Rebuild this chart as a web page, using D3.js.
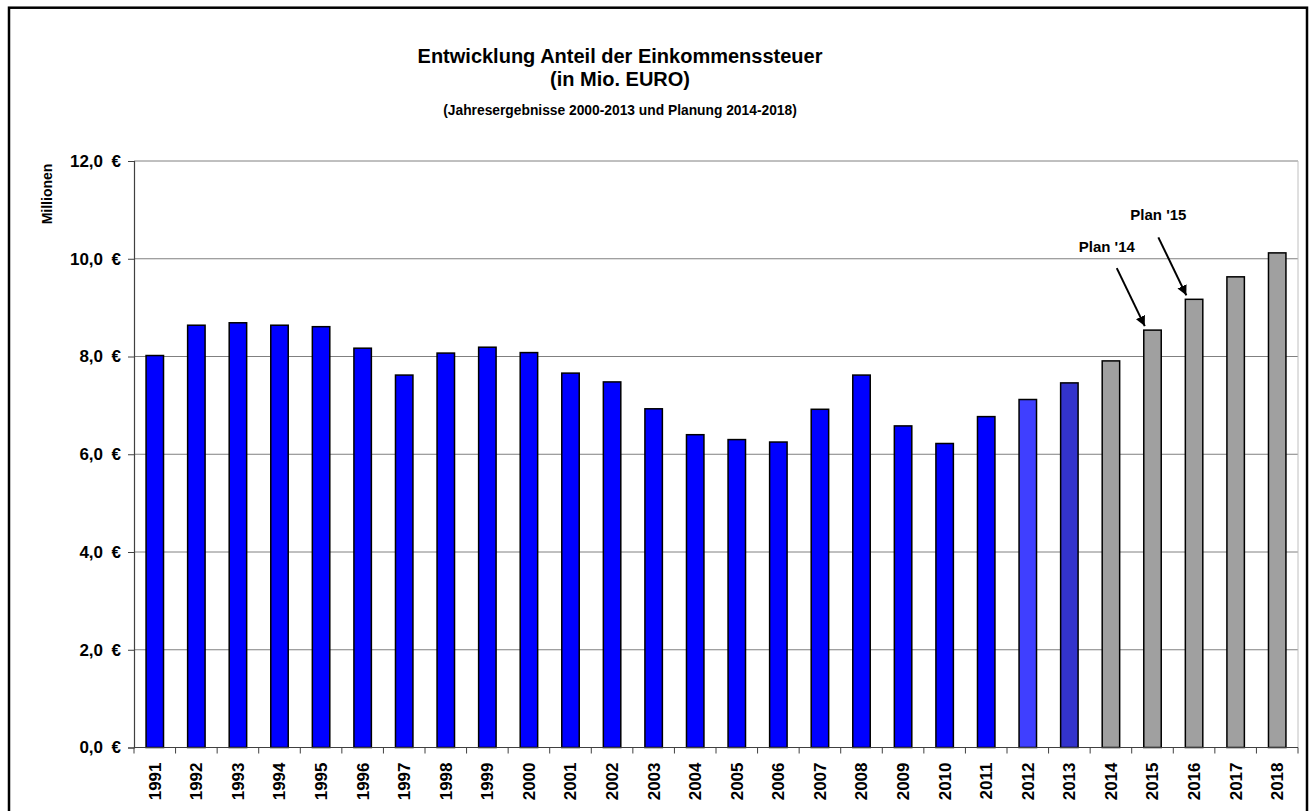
<!DOCTYPE html>
<html>
<head>
<meta charset="utf-8">
<script src="https://cdn.jsdelivr.net/npm/d3@7"></script>
<style>
  html, body { margin: 0; padding: 0; background: #fff; }
  svg { display: block; font-family: "Liberation Sans", Arial, sans-serif; }
</style>
</head>
<body>
<svg id="chart" width="1312" height="811"></svg>
<script>
// ---- data ----
const years = ["1991","1992","1993","1994","1995","1996","1997","1998","1999","2000",
               "2001","2002","2003","2004","2005","2006","2007","2008","2009","2010",
               "2011","2012","2013","2014","2015","2016","2017","2018"];
const values = [8.02, 8.64, 8.69, 8.64, 8.61, 8.17, 7.62, 8.07, 8.19, 8.08,
                7.66, 7.48, 6.93, 6.40, 6.30, 6.25, 6.92, 7.62, 6.58, 6.22,
                6.77, 7.12, 7.46, 7.91, 8.54, 9.17, 9.63, 10.12];
const yTicks = [0, 2, 4, 6, 8, 10, 12];
const titleLines = ["Entwicklung Anteil der Einkommenssteuer", "(in Mio. EURO)"];
const subtitle = "(Jahresergebnisse 2000-2013 und Planung 2014-2018)";
const yAxisTitle = "Millionen";
const annotationTexts = ["Plan '14", "Plan '15"];
const annotationYears = ["2015", "2016"];

// ---- layout ----
const svg = d3.select("#chart");
const plot = { left: 134, right: 1298, top: 161, bottom: 747.5 };
const font = '"Liberation Sans", Arial, sans-serif';
// label offsets relative to arrow start, per annotation
const labelOffsets = [{ dx: -38, dy: -16 }, { dx: -28, dy: -17 }];

const x = d3.scaleBand().domain(years).range([plot.left, plot.right])
  .paddingInner(0.58).paddingOuter(0.29);
const y = d3.scaleLinear().domain([0, 12]).range([plot.bottom, plot.top]);

function barColor(yr) {
  const n = +yr;
  if (n >= 2014) return "#A0A0A0";
  if (n === 2013) return "#3333CC";
  if (n === 2012) return "#3F3FFF";
  return "#0000FF";
}

// outer border
svg.append("rect").attr("x", 9).attr("y", 7.7).attr("width", 1298).attr("height", 830)
  .attr("fill", "none").attr("stroke", "#000").attr("stroke-width", 2.5);

// titles
svg.append("text").attr("x", 620).attr("y", 63).attr("text-anchor", "middle")
  .attr("font-size", 20).attr("font-weight", "bold").text(titleLines[0]);
svg.append("text").attr("x", 620).attr("y", 86).attr("text-anchor", "middle")
  .attr("font-size", 20).attr("font-weight", "bold").text(titleLines[1]);
svg.append("text").attr("x", 620).attr("y", 115).attr("text-anchor", "middle")
  .attr("font-size", 13.8).attr("font-weight", "bold").text(subtitle);

// gridlines
svg.append("g").selectAll("line").data(yTicks.filter(d => d > 0)).join("line")
  .attr("x1", plot.left).attr("x2", plot.right)
  .attr("y1", d => y(d)).attr("y2", d => y(d))
  .attr("stroke", "#808080").attr("stroke-width", 1);

// right border of plot
svg.append("line").attr("x1", plot.right).attr("x2", plot.right)
  .attr("y1", plot.top).attr("y2", plot.bottom)
  .attr("stroke", "#C0C0C0").attr("stroke-width", 1);

// bars
svg.append("g").selectAll("rect").data(years).join("rect")
  .attr("x", d => x(d))
  .attr("y", (d, i) => y(values[i]))
  .attr("width", x.bandwidth())
  .attr("height", (d, i) => y(0) - y(values[i]))
  .attr("fill", d => barColor(d))
  .attr("stroke", "#000").attr("stroke-width", 1.5);

// y axis
const yAxis = d3.axisLeft(y).tickValues(yTicks).tickSize(6).tickPadding(7)
  .tickFormat(d => d3.format(".1f")(d).replace(".", ",") + "\u2002€");
const gy = svg.append("g").attr("transform", `translate(${plot.left},0)`).call(yAxis);
gy.select(".domain").attr("stroke", "#404040").attr("stroke-width", 1.2);
gy.selectAll(".tick line").attr("stroke", "#404040");
gy.selectAll(".tick text").attr("font-size", 17).attr("font-weight", "bold")
  .attr("font-family", font).attr("fill", "#000");

// x axis (ticks at band boundaries)
svg.append("line").attr("x1", plot.left).attr("x2", plot.right)
  .attr("y1", plot.bottom).attr("y2", plot.bottom)
  .attr("stroke", "#404040").attr("stroke-width", 1.2);
const bounds = years.map(d => x(d) - x.step() * x.paddingInner() / 2).concat([plot.right]);
svg.append("g").selectAll("line").data(bounds).join("line")
  .attr("x1", d => d).attr("x2", d => d)
  .attr("y1", plot.bottom).attr("y2", plot.bottom + 6)
  .attr("stroke", "#404040").attr("stroke-width", 1);
svg.append("g").selectAll("text").data(years).join("text")
  .attr("transform", d => `translate(${x(d) + x.bandwidth() / 2},${plot.bottom + 15}) rotate(-90)`)
  .attr("text-anchor", "end").attr("dy", "0.35em")
  .attr("font-size", 17).attr("font-weight", "bold").text(d => d);

// y axis title
svg.append("text").attr("transform", "translate(52,194) rotate(-90)")
  .attr("text-anchor", "middle").attr("font-size", 14).attr("font-weight", "bold")
  .text(yAxisTitle);

// annotations with arrows
const defs = svg.append("defs");
defs.append("marker").attr("id", "arrow").attr("viewBox", "0 0 10 10")
  .attr("refX", 10).attr("refY", 5).attr("markerWidth", 5).attr("markerHeight", 5)
  .attr("orient", "auto-start-reverse").attr("markerUnits", "strokeWidth")
  .append("path").attr("d", "M0,0 L10,5 L0,10 z").attr("fill", "#000");

annotationTexts.forEach((txt, k) => {
  const yr = annotationYears[k];
  const i = years.indexOf(yr);
  const tipX = x(yr) + 1;
  const tipY = y(values[i]) - 4;
  const startX = tipX - 28, startY = tipY - 58;
  svg.append("line").attr("x1", startX).attr("y1", startY)
    .attr("x2", tipX).attr("y2", tipY)
    .attr("stroke", "#000").attr("stroke-width", 2).attr("marker-end", "url(#arrow)");
  svg.append("text").attr("x", startX + labelOffsets[k].dx).attr("y", startY + labelOffsets[k].dy)
    .attr("font-size", 15).attr("font-weight", "bold").text(txt);
});
</script>
</body>
</html>
